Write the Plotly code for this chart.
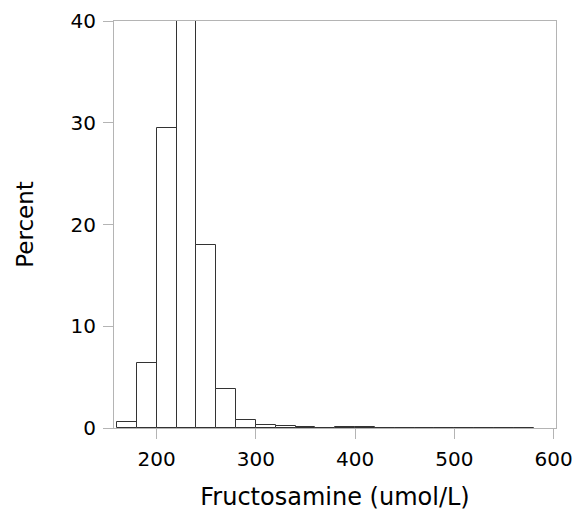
import plotly.graph_objects as go

# histogram bins (umol/L), width 20
bin_left = [160, 180, 200, 220, 240, 260, 280, 300, 320, 340, 360, 380, 400,
            420, 440, 460, 480, 500, 520, 540, 560]
percent = [0.6, 6.4, 29.5, 40.0, 18.0, 3.8, 0.75, 0.3, 0.2, 0.1, 0.0, 0.06, 0.06,
           0.0, 0.03, 0.0, 0.03, 0.0, 0.0, 0.0, 0.03]
bin_width = 20
centers = [b + bin_width / 2 for b in bin_left]

x_ticks = [200, 300, 400, 500, 600]
y_ticks = [0, 10, 20, 30, 40]

FONT = "DejaVu Sans, Arial, sans-serif"
FRAME = "#b4b4b4"

fig = go.Figure(
    go.Bar(
        x=centers,
        y=percent,
        width=bin_width,
        marker=dict(color="white", line=dict(color="#333333", width=1)),
        showlegend=False,
    )
)

fig.update_layout(
    width=579,
    height=511,
    margin=dict(l=114, r=23, t=21, b=83),
    plot_bgcolor="white",
    paper_bgcolor="white",
    font=dict(family=FONT, size=20, color="black"),
    bargap=0,
)
fig.update_xaxes(
    range=[157, 602.5],
    tickvals=x_ticks,
    ticks="outside",
    ticklen=10,
    tickcolor=FRAME,
    ticklabelstandoff=3,
    showline=True,
    linecolor=FRAME,
    mirror=True,
    showgrid=False,
    zeroline=False,
    automargin=False,
    title=dict(text="Fructosamine (umol/L)", font=dict(size=24), standoff=19),
)
fig.update_yaxes(
    range=[0, 40],
    tickvals=y_ticks,
    ticks="outside",
    ticklen=10,
    tickcolor=FRAME,
    ticklabelstandoff=3,
    showline=True,
    linecolor=FRAME,
    mirror=True,
    showgrid=False,
    zeroline=False,
    automargin=False,
    title=dict(text="Percent", font=dict(size=23), standoff=30),
)

# drop the default page margin so the 579x511 figure sits at the window corner
fig.write_html(
    "out.html",
    config={"displayModeBar": False},
    post_script="document.body.style.margin = '0';",
)
